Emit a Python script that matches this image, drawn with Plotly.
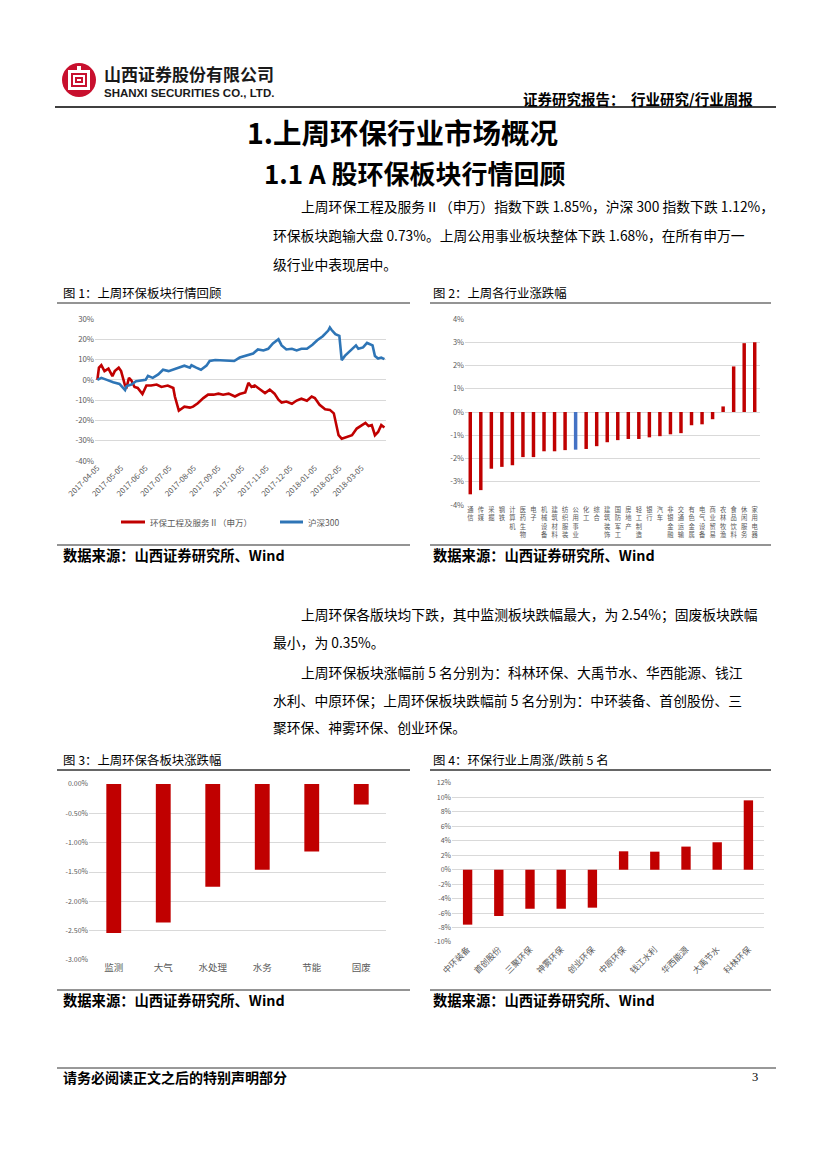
import plotly.graph_objects as go

# The page body adds an 8px offset; the figure is sized so the content lands on the 827x1169 page.
PAGE_W, PAGE_H = 827, 1169
OFF = 8
W, H = PAGE_W - OFF, PAGE_H - OFF
FONT = "Noto Sans CJK SC"
GRID = "#D9D9D9"
TICK = "#595959"
RED = "#C00000"
BLUE = "#2E75B6"


def px(x):
    return (x - OFF) / W


def py(y):
    return 1 - (y - OFF) / H


# ---------------- Chart 1 data: 上周环保板块行情回顾 ----------------
index_dates = ["2017-04-05", "2017-04-07", "2017-04-10", "2017-04-14", "2017-04-19", "2017-04-24",
               "2017-04-27", "2017-05-02", "2017-05-05", "2017-05-10", "2017-05-12", "2017-05-15",
               "2017-05-18", "2017-05-22", "2017-05-26", "2017-06-01", "2017-06-06", "2017-06-12",
               "2017-06-19", "2017-06-25", "2017-07-03", "2017-07-10", "2017-07-12", "2017-07-17",
               "2017-07-24", "2017-07-31", "2017-08-04", "2017-08-10", "2017-08-17", "2017-08-23",
               "2017-08-30", "2017-09-05", "2017-09-11", "2017-09-18", "2017-09-26", "2017-10-02",
               "2017-10-09", "2017-10-13", "2017-10-17", "2017-10-21", "2017-10-27", "2017-11-03",
               "2017-11-09", "2017-11-15", "2017-11-20", "2017-11-24", "2017-11-30", "2017-12-07",
               "2017-12-13", "2017-12-19", "2017-12-26", "2018-01-01", "2018-01-05", "2018-01-11",
               "2018-01-18", "2018-01-24", "2018-01-29", "2018-02-01", "2018-02-04", "2018-02-08",
               "2018-02-14", "2018-02-21", "2018-02-27", "2018-03-06", "2018-03-10", "2018-03-14",
               "2018-03-18", "2018-03-22", "2018-03-26", "2018-03-30", "2018-04-03"]
index_values = [0.0, 6.0, 7.2, 4.3, 5.5, 1.8,
                4.3, 6.0, 4.3, -2.8, -3.5, 1.0,
                -0.3, -3.5, -4.0, -7.0, -2.8, -2.8,
                -2.3, -3.5, -2.8, -4.0, -8.2, -15.2,
                -13.2, -13.7, -13.2, -11.5, -9.0, -7.3,
                -7.3, -6.8, -7.3, -6.8, -8.2, -7.0,
                -6.2, -1.5, -3.5, -2.8, -4.5, -6.5,
                -4.8, -6.8, -9.8, -11.2, -10.7, -11.8,
                -10.2, -9.3, -10.3, -8.2, -9.0, -12.3,
                -14.5, -14.8, -16.5, -22.3, -27.3, -29.0,
                -28.2, -27.3, -24.0, -22.3, -21.2, -22.8,
                -22.3, -27.3, -25.7, -22.3, -23.5]

hs300_dates = ["2017-04-05", "2017-04-10", "2017-04-17", "2017-04-25", "2017-05-03", "2017-05-10",
               "2017-05-12", "2017-05-18", "2017-05-24", "2017-05-31", "2017-06-05", "2017-06-08",
               "2017-06-14", "2017-06-21", "2017-06-27", "2017-07-04", "2017-07-10", "2017-07-17",
               "2017-07-24", "2017-07-31", "2017-08-02", "2017-08-08", "2017-08-14", "2017-08-21",
               "2017-08-25", "2017-09-01", "2017-09-07", "2017-09-15", "2017-09-25", "2017-10-02",
               "2017-10-11", "2017-10-19", "2017-10-25", "2017-11-01", "2017-11-07", "2017-11-13",
               "2017-11-20", "2017-11-24", "2017-11-30", "2017-12-07", "2017-12-13", "2017-12-19",
               "2017-12-26", "2018-01-02", "2018-01-08", "2018-01-15", "2018-01-22", "2018-01-24",
               "2018-01-26", "2018-01-31", "2018-02-05", "2018-02-08", "2018-02-12", "2018-02-22",
               "2018-02-26", "2018-03-01", "2018-03-07", "2018-03-12", "2018-03-19", "2018-03-22",
               "2018-03-26", "2018-03-30", "2018-04-03"]
hs300_values = [0.0, 1.0, 0.0, -1.2, -2.0, -5.0,
                -3.0, -2.3, -0.7, -0.3, 0.0, 2.0,
                1.0, 2.7, 5.0, 4.3, 5.0, 6.0,
                7.0, 6.0, 7.2, 6.0, 5.0, 7.0,
                9.3, 9.8, 9.7, 9.8, 9.3, 11.0,
                12.0, 13.0, 15.0, 14.5, 15.3, 18.0,
                20.0, 17.0, 15.0, 15.3, 14.5, 15.3,
                15.3, 17.3, 19.5, 21.5, 24.3, 25.8,
                24.7, 22.5, 21.7, 9.7, 11.8, 15.3,
                17.0, 15.3, 16.0, 18.2, 17.0, 11.8,
                10.5, 11.0, 10.2]

c1_series_names = ["环保工程及服务Ⅱ（申万）", "沪深300"]
c1_tickvals = ["2017-04-05", "2017-05-05", "2017-06-05", "2017-07-05", "2017-08-05", "2017-09-05",
               "2017-10-05", "2017-11-05", "2017-12-05", "2018-01-05", "2018-02-05", "2018-03-05"]
c1_yticks = [30, 20, 10, 0, -10, -20, -30, -40]
c1_yticktext = ["30%", "20%", "10%", "0%", "-10%", "-20%", "-30%", "-40%"]

# ---------------- Chart 2 data: 上周各行业涨跌幅 ----------------
industries = ["通信", "传媒", "采掘", "钢铁", "计算机", "医药生物", "电子",
              "机械设备", "建筑材料", "纺织服装", "公用事业", "化工", "综合", "建筑装饰",
              "国防军工", "房地产", "轻工制造", "银行", "汽车", "非银金融", "交通运输",
              "有色金属", "电气设备", "商业贸易", "农林牧渔", "食品饮料", "休闲服务", "家用电器"]
industry_change = [-3.54, -3.36, -2.44, -2.36, -2.29, -1.94, -1.94,
                   -1.69, -1.69, -1.64, -1.62, -1.59, -1.47, -1.30,
                   -1.21, -1.16, -1.16, -1.09, -1.04, -0.96, -0.91,
                   -0.57, -0.53, -0.31, 0.24, 1.96, 2.96, 3.00]
highlight_industry = "公用事业"
c2_yticks = [4, 3, 2, 1, 0, -1, -2, -3, -4]
c2_yticktext = ["4%", "3%", "2%", "1%", "0%", "-1%", "-2%", "-3%", "-4%"]

# ---------------- Chart 3 data: 上周环保各板块涨跌幅 ----------------
sectors = ["监测", "大气", "水处理", "水务", "节能", "固废"]
sector_change = [-2.54, -2.36, -1.75, -1.46, -1.15, -0.35]
c3_yticks = [0, -0.5, -1.0, -1.5, -2.0, -2.5, -3.0]
c3_yticktext = ["0.00%", "-0.50%", "-1.00%", "-1.50%", "-2.00%", "-2.50%", "-3.00%"]

# ---------------- Chart 4 data: 环保行业上周涨/跌前5名 ----------------
stocks = ["中环装备", "首创股份", "三聚环保", "神雾环保", "创业环保",
          "中原环保", "钱江水利", "华西能源", "大禹节水", "科林环保"]
stock_change = [-7.6, -6.4, -5.4, -5.4, -5.25, 2.55, 2.5, 3.2, 3.8, 9.6]
c4_yticks = [12, 10, 8, 6, 4, 2, 0, -2, -4, -6, -8, -10]
c4_yticktext = ["12%", "10%", "8%", "6%", "4%", "2%", "0%", "-2%", "-4%", "-6%", "-8%", "-10%"]

fig = go.Figure()

# Chart 1 lines
fig.add_trace(go.Scatter(x=index_dates, y=index_values, mode="lines", name=c1_series_names[0],
                         line=dict(color=RED, width=2.6), xaxis="x", yaxis="y"))
fig.add_trace(go.Scatter(x=hs300_dates, y=hs300_values, mode="lines", name=c1_series_names[1],
                         line=dict(color=BLUE, width=2.6), xaxis="x", yaxis="y"))

# Chart 2 bars
c2_colors = [("#4472C4" if n == highlight_industry else RED) for n in industries]
fig.add_trace(go.Bar(x=industries, y=industry_change, marker=dict(color=c2_colors, line=dict(width=0)),
                     width=0.33, xaxis="x2", yaxis="y2"))

# Chart 3 bars
fig.add_trace(go.Bar(x=sectors, y=sector_change, marker=dict(color=RED, line=dict(width=0)),
                     width=0.3, xaxis="x3", yaxis="y3"))

# Chart 4 bars
fig.add_trace(go.Bar(x=stocks, y=stock_change, marker=dict(color=RED, line=dict(width=0)),
                     width=0.3, xaxis="x4", yaxis="y4"))

tickfont = dict(family=FONT, size=7.5, color=TICK)
common = dict(automargin=False, fixedrange=True)

layout_axes = dict(
    xaxis=dict(domain=[px(95), px(386)], anchor="y", type="date",
               range=["2017-04-02", "2018-04-05"], tickvals=c1_tickvals, ticktext=c1_tickvals,
               tickangle=-45, tickfont=dict(family=FONT, size=7.8, color=TICK), showgrid=False,
               showline=False, ticks="", zeroline=False, **common),
    yaxis=dict(domain=[py(461), py(319)], anchor="x", range=[-40, 30], tickvals=c1_yticks,
               ticktext=c1_yticktext, gridcolor=GRID, gridwidth=1, zeroline=False, showline=False,
               tickfont=dict(family=FONT, size=7.8, color=TICK), ticks="", **common),
    xaxis2=dict(domain=[px(465), px(760)], anchor="y2", type="category",
                tickvals=industries, ticktext=["<br>".join(list(n)) for n in industries],
                tickangle=0, tickfont=dict(family=FONT, size=6.3, color=TICK), showgrid=False,
                showline=False, ticks="", zeroline=False, **common),
    yaxis2=dict(domain=[py(505), py(319)], anchor="x2", range=[-4, 4], tickvals=c2_yticks,
                ticktext=c2_yticktext, gridcolor=GRID, zeroline=False, showline=False,
                tickfont=tickfont, ticks="", **common),
    xaxis3=dict(domain=[px(89), px(386)], anchor="y3", type="category",
                tickfont=dict(family=FONT, size=9.5, color=TICK), showgrid=False,
                showline=False, ticks="", zeroline=False, **common),
    yaxis3=dict(domain=[py(960), py(784)], anchor="x3", range=[-3, 0], tickvals=c3_yticks,
                ticktext=c3_yticktext, gridcolor=GRID, zeroline=False, showline=False,
                tickfont=dict(family=FONT, size=7, color=TICK), ticks="", **common),
    xaxis4=dict(domain=[px(452), px(764)], anchor="y4", type="category", tickangle=-45,
                tickfont=dict(family=FONT, size=8.5, color=TICK), showgrid=False,
                showline=False, ticks="", zeroline=False, **common),
    yaxis4=dict(domain=[py(942), py(783)], anchor="x4", range=[-10, 12], tickvals=c4_yticks,
                ticktext=c4_yticktext, gridcolor=GRID, zeroline=False, showline=False,
                tickfont=dict(family=FONT, size=7, color=TICK), ticks="", **common),
)

annotations = []


def txt(x, y, s, size, bold=False, color="#000000", anchor="left", family=FONT):
    annotations.append(dict(x=px(x), y=py(y), xref="paper", yref="paper",
                            text=f"<b>{s}</b>" if bold else s, showarrow=False,
                            xanchor=anchor, yanchor="middle",
                            font=dict(size=size, color=color, family=family)))


shapes = []


def hline(x0, x1, y, color="#595959", width=1.5):
    shapes.append(dict(type="line", xref="paper", yref="paper", x0=px(x0), x1=px(x1),
                       y0=py(y), y1=py(y), line=dict(color=color, width=width)))


def rect(x0, y0, x1, y1, color):
    shapes.append(dict(type="rect", xref="paper", yref="paper", x0=px(x0), x1=px(x1),
                       y0=py(y1), y1=py(y0), fillcolor=color, line=dict(width=0)))


# Header
txt(102, 73, "山西证券股份有限公司", 17, bold=True, color="#1a1a1a")
txt(102, 93, "SHANXI SECURITIES CO., LTD.", 11.5, bold=True, color="#1a1a1a", family="Liberation Sans")
txt(755, 98, "证券研究报告：  行业研究/行业周报", 14.5, bold=True, anchor="right")

# Titles
txt(402, 131, "1.上周环保行业市场概况", 28.5, bold=True, anchor="center")
txt(415, 172, "1.1 A 股环保板块行情回顾", 26, bold=True, anchor="center")

# Paragraph 1
txt(299, 206, "上周环保工程及服务Ⅱ（申万）指数下跌 1.85%，沪深 300 指数下跌 1.12%，", 13.8)
txt(271, 235, "环保板块跑输大盘 0.73%。上周公用事业板块整体下跌 1.68%，在所有申万一", 13.8)
txt(271, 264, "级行业中表现居中。", 13.8)

# Captions charts 1/2
txt(61, 293, "图 1：上周环保板块行情回顾", 12.4)
txt(431, 293, "图 2：上周各行业涨跌幅", 12.4)
txt(61, 554, "数据来源：山西证券研究所、Wind", 14.3, bold=True)
txt(431, 554, "数据来源：山西证券研究所、Wind", 14.3, bold=True)

# Chart 1 legend (drawn manually)
shapes.append(dict(type="line", xref="paper", yref="paper", x0=px(121), x1=px(145),
                   y0=py(522), y1=py(522), line=dict(color=RED, width=3)))
txt(148, 522, c1_series_names[0], 8.5, color=TICK)
shapes.append(dict(type="line", xref="paper", yref="paper", x0=px(280), x1=px(303),
                   y0=py(522), y1=py(522), line=dict(color=BLUE, width=3)))
txt(306, 522, c1_series_names[1], 8.5, color=TICK)

# Paragraph 2 / 3
txt(299, 614, "上周环保各版块均下跌，其中监测板块跌幅最大，为 2.54%；固废板块跌幅", 13.8)
txt(271, 642, "最小，为 0.35%。", 13.8)
txt(299, 672, "上周环保板块涨幅前 5 名分别为：科林环保、大禹节水、华西能源、钱江", 13.8)
txt(271, 700, "水利、中原环保；上周环保板块跌幅前 5 名分别为：中环装备、首创股份、三", 13.8)
txt(271, 727, "聚环保、神雾环保、创业环保。", 13.8)

# Captions charts 3/4
txt(61, 760, "图 3：上周环保各板块涨跌幅", 12.4)
txt(431, 760, "图 4：环保行业上周涨/跌前 5 名", 12.4)
txt(61, 999, "数据来源：山西证券研究所、Wind", 14.3, bold=True)
txt(431, 999, "数据来源：山西证券研究所、Wind", 14.3, bold=True)

# Footer
txt(61, 1077, "请务必阅读正文之后的特别声明部分", 14, bold=True)
txt(760, 1077, "3", 12.5, anchor="right", family="Liberation Serif")

hline(55, 776, 107, "#404040", 2)
hline(57, 410, 303, "#707070", 1.5)
hline(430, 771, 303, "#707070", 1.5)
hline(57, 410, 545, "#707070", 1.5)
hline(430, 771, 545, "#707070", 1.5)
hline(57, 410, 770, "#333333", 1.5)
hline(430, 771, 770, "#333333", 1.5)
hline(57, 410, 990, "#707070", 1.5)
hline(430, 771, 990, "#707070", 1.5)
hline(57, 776, 1068, "#333333", 1)

# Logo
shapes.append(dict(type="circle", xref="paper", yref="paper", x0=px(62), x1=px(96),
                   y0=py(97), y1=py(63), fillcolor="#C8102E", line=dict(width=0)))
rect(68, 70, 90, 90, "white")
rect(71, 73, 87, 87, "#C8102E")
rect(73, 75, 85, 85, "white")
rect(75, 77, 83, 83, "#C8102E")
rect(77, 79, 81, 81, "white")
rect(77, 66, 81, 73, "white")

fig.update_layout(
    width=W, height=H, margin=dict(l=0, r=0, t=0, b=0, pad=0, autoexpand=False),
    paper_bgcolor="white", plot_bgcolor="white",
    annotations=annotations, shapes=shapes,
    showlegend=False,
    **layout_axes,
)

fig.write_html("out.html")
